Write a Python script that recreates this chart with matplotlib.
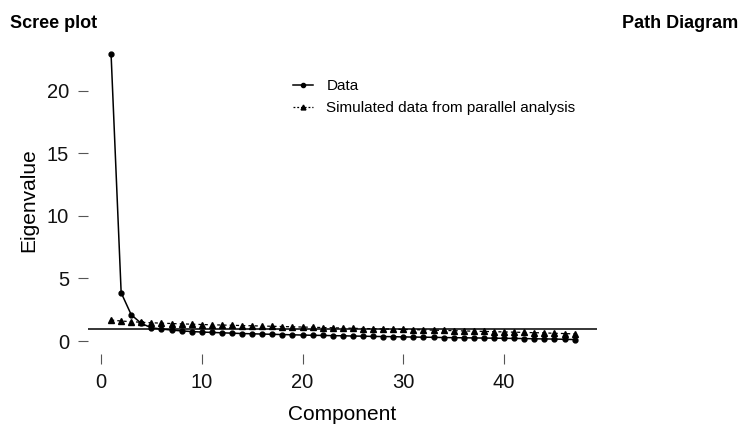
import numpy as np
import matplotlib.pyplot as plt
from matplotlib.lines import Line2D

plt.rcParams['font.family'] = ['Liberation Sans', 'DejaVu Sans']

# eigenvalues
component = np.arange(1, 48)
data_ev = [22.9, 3.86, 2.1, 1.41, 1.06, 0.96, 0.88, 0.81, 0.76, 0.72,
           0.69, 0.66, 0.63, 0.60, 0.58, 0.56, 0.54, 0.52, 0.50, 0.48,
           0.46, 0.45, 0.43, 0.42, 0.40, 0.39, 0.37, 0.36, 0.35, 0.33,
           0.32, 0.31, 0.30, 0.28, 0.27, 0.26, 0.25, 0.24, 0.23, 0.22,
           0.21, 0.20, 0.18, 0.17, 0.16, 0.14, 0.12]
sim_ev = [1.68, 1.60, 1.55, 1.50, 1.46, 1.43, 1.40, 1.37, 1.35, 1.32,
          1.30, 1.28, 1.26, 1.24, 1.22, 1.20, 1.18, 1.16, 1.14, 1.12,
          1.10, 1.08, 1.06, 1.04, 1.02, 1.00, 0.99, 0.97, 0.95, 0.93,
          0.91, 0.89, 0.87, 0.85, 0.83, 0.81, 0.79, 0.77, 0.75, 0.73,
          0.71, 0.69, 0.67, 0.65, 0.62, 0.60, 0.57]
xticks = [0, 10, 20, 30, 40]
yticks = [0, 5, 10, 15, 20]

fig = plt.figure(figsize=(7.45, 4.26), dpi=100)
ax = fig.add_axes([0.118, 0.170, 0.683, 0.720])

ax.axhline(1, color='black', lw=1.1, zorder=1)
ax.plot(component, sim_ev, color='black', lw=0.9, ls=(0, (2.5, 2.5)),
        marker='^', ms=4, zorder=2)
ax.plot(component, data_ev, color='black', lw=1.1, marker='o', ms=3.5, zorder=3)

ax.set_xlim(-1.3, 49.2)
ax.set_ylim(-1, 23.5)
ax.set_xticks(xticks)
ax.set_yticks(yticks)
for s in ax.spines.values():
    s.set_visible(False)
ax.tick_params(axis='both', direction='out', length=7.2, width=0.8,
               color='#555555', labelsize=14.5, labelcolor='#111111')
ax.tick_params(axis='y', pad=6.5)
ax.tick_params(axis='x', pad=7)
ax.set_xlabel('Component', fontsize=15, labelpad=9)
ax.set_ylabel('Eigenvalue', fontsize=15, labelpad=6)

handles = [
    Line2D([], [], color='black', lw=1.1, marker='o', ms=3),
    Line2D([], [], color='black', lw=0.9, ls=(0, (1.5, 1.5)), marker='^', ms=3.5),
]
fig.legend(handles, ['Data', 'Simulated data from parallel analysis'],
           loc='upper left', bbox_to_anchor=(0.393, 0.814), frameon=False,
           fontsize=11, handlelength=1.3, handletextpad=0.9, labelspacing=0.5,
           borderaxespad=0, borderpad=0)

fig.text(0.013, 0.945, 'Scree plot', fontsize=13, fontweight='bold', va='center')
fig.text(0.991, 0.945, 'Path Diagram', fontsize=13, fontweight='bold',
         va='center', ha='right')

fig.savefig('out.png', dpi=100)
